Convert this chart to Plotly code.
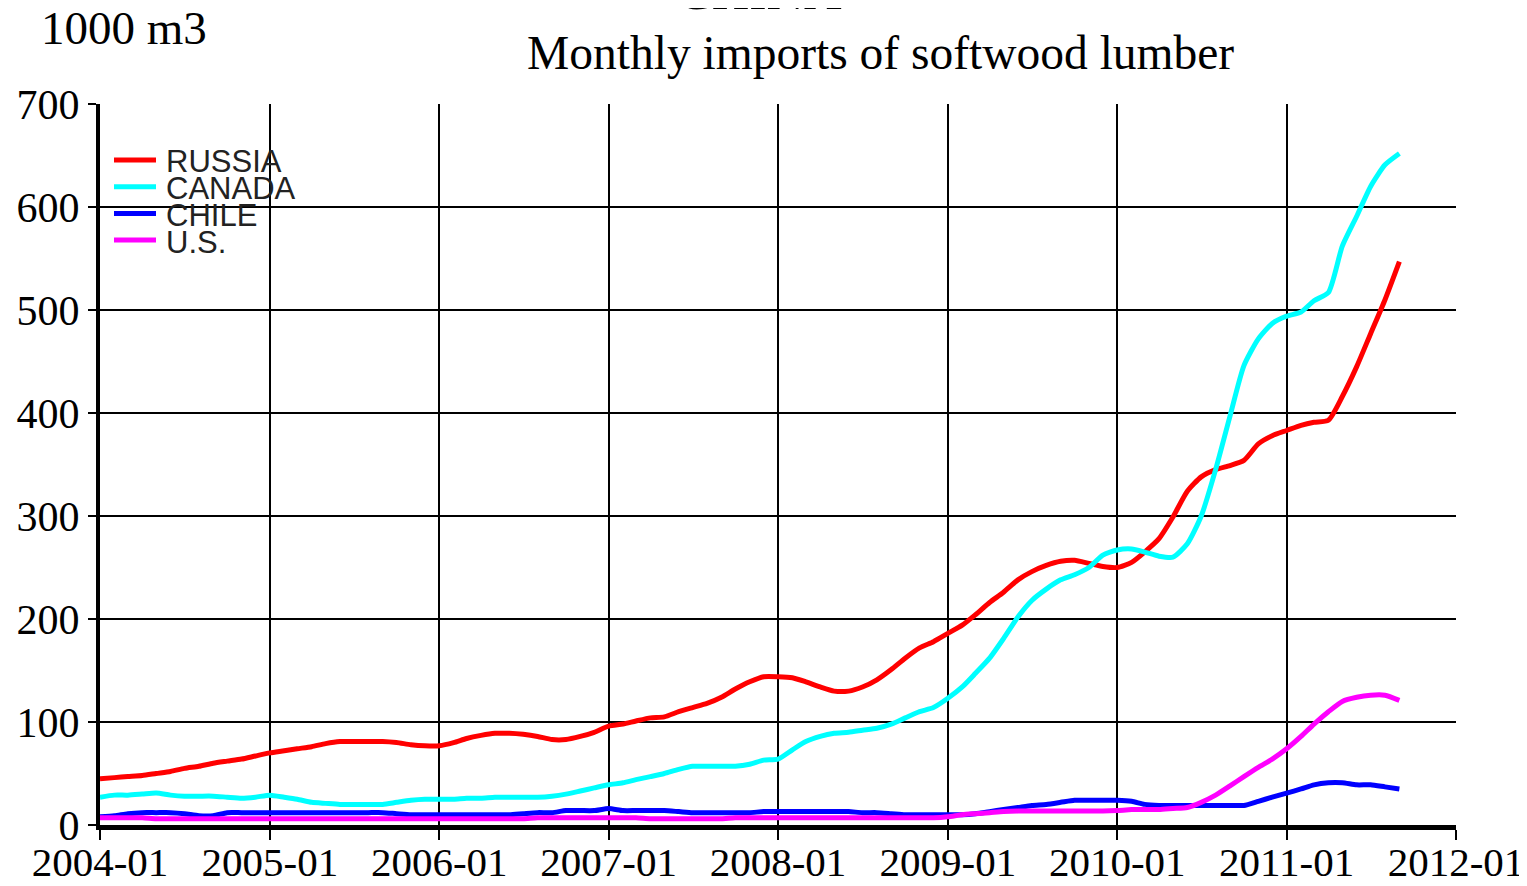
import plotly.graph_objects as go
import pandas as pd

months = pd.date_range("2004-01-01", "2011-09-01", freq="MS")

russia = [45, 46, 47, 48, 50, 52, 55, 57, 60, 62, 64, 67,
          70, 72, 74, 76, 79, 81, 81, 81, 81, 80, 78, 77,
          77, 80, 84, 87, 89, 89, 88, 86, 83, 83, 86, 90,
          96, 98, 101, 104, 105, 110, 114, 118, 124, 132, 139, 144,
          144, 143, 139, 134, 130, 130, 134, 141, 151, 162, 172, 178,
          186, 194, 204, 216, 226, 238, 246, 252, 256, 257, 254, 251,
          250, 255, 265, 278, 299, 324, 338, 345, 349, 354, 370, 378,
          383, 388, 391, 393, 416, 445, 477, 510, 547]

canada = [27, 29, 29, 30, 31, 29, 28, 28, 28, 27, 26, 27,
          29, 27, 25, 22, 21, 20, 20, 20, 20, 22, 24, 25,
          25, 25, 26, 26, 27, 27, 27, 27, 28, 30, 33, 36,
          39, 41, 44, 47, 50, 54, 57, 57, 57, 57, 59, 63,
          64, 73, 81, 86, 89, 90, 92, 94, 98, 104, 110, 114,
          123, 134, 147, 162, 181, 202, 218, 229, 238, 243, 250, 262,
          267, 268, 265, 261, 260, 273, 300, 345, 397, 446, 472, 487,
          494, 498, 509, 517, 562, 591, 620, 641, 652]

chile = [8, 9, 11, 12, 12, 12, 11, 9, 9, 12, 12, 12,
         12, 12, 12, 12, 12, 12, 12, 12, 12, 11, 10, 10,
         10, 10, 10, 10, 10, 10, 11, 12, 12, 14, 14, 14,
         16, 14, 14, 14, 14, 13, 12, 12, 12, 12, 12, 13,
         13, 13, 13, 13, 13, 13, 12, 12, 11, 10, 10, 10,
         10, 10, 11, 13, 15, 17, 19, 20, 22, 24, 24, 24,
         24, 23, 20, 19, 19, 19, 19, 19, 19, 19, 23, 27,
         31, 35, 39, 41, 41, 39, 39, 37, 35]

us = [7, 7, 7, 7, 6, 6, 6, 6, 6, 6, 6, 6,
      6, 6, 6, 6, 6, 6, 6, 6, 6, 6, 6, 6,
      6, 6, 6, 6, 6, 6, 6, 7, 7, 7, 7, 7,
      7, 7, 7, 6, 6, 6, 6, 6, 6, 7, 7, 7,
      7, 7, 7, 7, 7, 7, 7, 7, 7, 7, 7, 7,
      8, 10, 11, 12, 13, 13.5, 13.5, 13.5, 13.5, 13.5, 13.5, 13.5,
      14, 15, 15, 15, 16, 17, 22, 29, 38, 47, 56, 64,
      74, 86, 98, 110, 120, 124, 126, 126, 121]

series_names = ["RUSSIA", "CANADA", "CHILE", "U.S."]
series_values = [russia, canada, chile, us]
series_colors = ["#FF0000", "#00FFFF", "#0000FF", "#FF00FF"]

y_ticks = [0, 100, 200, 300, 400, 500, 600, 700]
x_ticks = pd.date_range("2004-01-01", "2012-01-01", freq="YS")
x_tick_labels = [d.strftime("%Y-%m") for d in x_ticks]

fig = go.Figure()
for name, vals, col in zip(series_names, series_values, series_colors):
    fig.add_trace(go.Scatter(x=months, y=vals, mode="lines", name=name,
                             line=dict(color=col, width=5, shape="spline", smoothing=0.6),
                             showlegend=False))

serif = "Liberation Serif, Times New Roman, serif"
OFF = 8  # page body margin
W, H = 1527 - OFF, 886 - OFF
L, R, T, B = 92, 71, 96, 61
pw, ph = W - L - R, H - T - B

# helpers converting page pixel positions to paper coordinates
def px(x):
    return (x - OFF - L) / pw

def py(y):
    return (OFF + T + ph - y) / ph

annotations = [
    dict(text="1000 m3", x=px(39), y=py(28), xref="paper", yref="paper",
         xanchor="left", yanchor="middle", showarrow=False,
         font=dict(family=serif, size=47, color="black")),
    dict(text="Monthly imports of softwood lumber", x=px(880), y=py(53), xref="paper", yref="paper",
         xanchor="center", yanchor="middle", showarrow=False,
         font=dict(family=serif, size=47.5, color="black")),
    dict(text="CHINA", x=px(759), y=py(-9), xref="paper", yref="paper",
         xanchor="center", yanchor="middle", showarrow=False,
         font=dict(family=serif, size=52, color="black")),
]
shapes = []
for i, (name, col) in enumerate(zip(series_names, series_colors)):
    yy = 160 + i * 26.7
    shapes.append(dict(type="line", xref="paper", yref="paper",
                       x0=px(114), x1=px(156), y0=py(yy), y1=py(yy),
                       line=dict(color=col, width=5)))
    annotations.append(dict(text=name, x=px(164), y=py(yy + 2), xref="paper", yref="paper",
                            xanchor="left", yanchor="middle", showarrow=False,
                            font=dict(family="Liberation Sans, Arial, sans-serif", size=31, color="#222222")))

fig.update_layout(
    width=W, height=H,
    margin=dict(l=L, r=R, t=T, b=B),
    paper_bgcolor="white", plot_bgcolor="white",
    annotations=annotations, shapes=shapes,
    xaxis=dict(type="date", range=["2004-01-01", "2012-01-01"],
               tickvals=list(x_ticks), ticktext=x_tick_labels,
               showgrid=True, gridcolor="black", gridwidth=1.5,
               showline=True, linecolor="black", linewidth=5,
               ticks="outside", ticklen=10, tickwidth=2, tickcolor="black",
               ticklabelstandoff=-13,
               tickfont=dict(family=serif, size=41, color="black"),
               automargin=False, zeroline=False, fixedrange=True),
    yaxis=dict(range=[0, 700], tickvals=y_ticks,
               showgrid=True, gridcolor="black", gridwidth=1.5,
               showline=True, linecolor="black", linewidth=4,
               ticks="outside", ticklen=8, tickwidth=2, tickcolor="black",
               tickfont=dict(family=serif, size=42, color="black"),
               automargin=False, zeroline=False, fixedrange=True),
)

fig.write_html("out.html")
